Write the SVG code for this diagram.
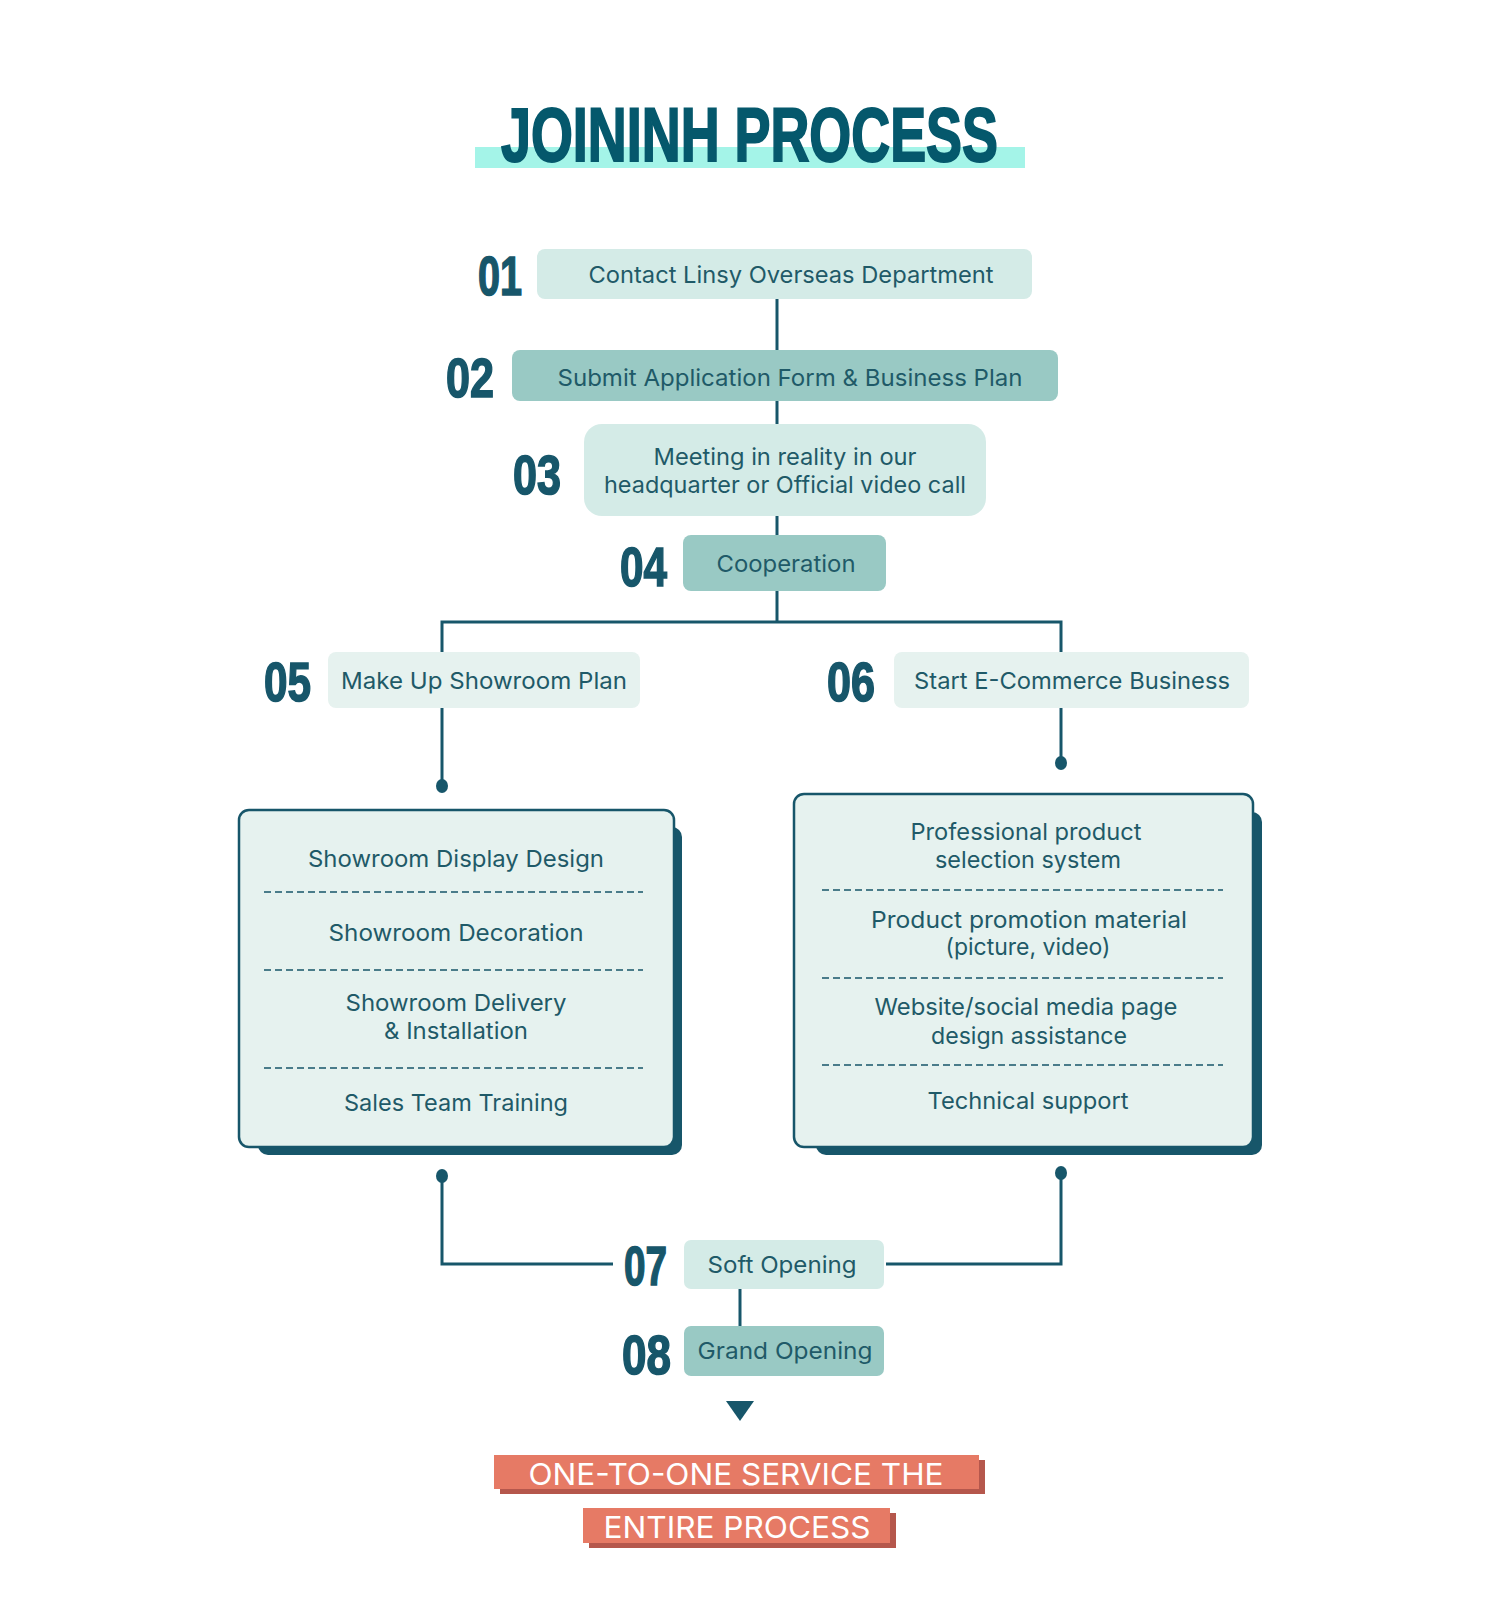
<svg xmlns="http://www.w3.org/2000/svg" width="1500" height="1611" viewBox="0 0 1500 1611">
<style>
.num{font-family:"Liberation Sans",Arial,sans-serif;font-weight:700;font-size:56px;fill:#17566a;stroke:#17566a;stroke-width:1.6}
.lbl{font-family:Inter,"Noto Sans",sans-serif;font-size:23.5px;fill:#1f5a68;text-anchor:middle}
.conn{fill:none;stroke:#17566a;stroke-width:3}
.dash{stroke:#17566a;stroke-width:1.5;stroke-dasharray:7 4}
.light{fill:#d4ebe7}
.mid{fill:#99c9c4}
.pale{fill:#e6f2ef}
.card{fill:#e6f2ef;stroke:#17566a;stroke-width:2.5}
.shadow{fill:#17566a}
.ban{font-family:Inter,"Noto Sans",sans-serif;font-size:30px;fill:#ffffff;text-anchor:middle}
</style>
<rect width="1500" height="1611" fill="#ffffff"/>
<g id="title">
<rect x="475" y="147" width="550" height="21" fill="#a4f4e8"/>
<text x="501" y="161" font-family="Liberation Sans,Arial,sans-serif" font-weight="700" font-size="76" fill="#05586c" stroke="#05586c" stroke-width="2" textLength="497" lengthAdjust="spacingAndGlyphs">JOININH PROCESS</text>
</g>
<g id="connectors">
<line class="conn" x1="777" y1="299" x2="777" y2="350"/>
<line class="conn" x1="777" y1="401" x2="777" y2="424"/>
<line class="conn" x1="777" y1="516" x2="777" y2="535"/>
<polyline class="conn" points="777,591 777,622"/>
<polyline class="conn" points="442,652 442,622 1061,622 1061,652"/>
<line class="conn" x1="442" y1="708" x2="442" y2="784"/>
<ellipse cx="442" cy="786" rx="6" ry="7" fill="#17566a"/>
<line class="conn" x1="1061" y1="708" x2="1061" y2="761"/>
<ellipse cx="1061" cy="763" rx="6" ry="7" fill="#17566a"/>
<ellipse cx="442" cy="1176" rx="6" ry="7" fill="#17566a"/>
<polyline class="conn" points="442,1176 442,1264 613,1264"/>
<ellipse cx="1061" cy="1173" rx="6" ry="7" fill="#17566a"/>
<polyline class="conn" points="1061,1173 1061,1264 886,1264"/>
<line class="conn" x1="740" y1="1289" x2="740" y2="1326"/>
<polygon points="726,1401 754,1401 740,1421" fill="#17566a"/>
</g>
<g id="n01">
<rect class="light" x="537" y="249" width="495" height="50" rx="8"/>
<text class="num" x="478" y="295" textLength="44" lengthAdjust="spacingAndGlyphs">01</text>
<text class="lbl" x="791" y="283" textLength="405" lengthAdjust="spacingAndGlyphs">Contact Linsy Overseas Department</text>
</g>
<g id="n02">
<rect class="mid" x="512" y="350" width="546" height="51" rx="8"/>
<text class="num" x="446" y="397" textLength="48" lengthAdjust="spacingAndGlyphs">02</text>
<text class="lbl" x="790" y="386" textLength="465" lengthAdjust="spacingAndGlyphs">Submit Application Form &amp; Business Plan</text>
</g>
<g id="n03">
<rect class="light" x="584" y="424" width="402" height="92" rx="18"/>
<text class="num" x="513" y="494" textLength="48" lengthAdjust="spacingAndGlyphs">03</text>
<text class="lbl" x="785" y="465" textLength="263" lengthAdjust="spacingAndGlyphs">Meeting in reality in our</text>
<text class="lbl" x="785" y="493" textLength="362" lengthAdjust="spacingAndGlyphs">headquarter or Official video call</text>
</g>
<g id="n04">
<rect class="mid" x="683" y="535" width="203" height="56" rx="8"/>
<text class="num" x="620" y="586" textLength="47" lengthAdjust="spacingAndGlyphs">04</text>
<text class="lbl" x="786" y="572" textLength="139" lengthAdjust="spacingAndGlyphs">Cooperation</text>
</g>
<g id="n05">
<rect class="pale" x="328" y="652" width="312" height="56" rx="8"/>
<text class="num" x="264" y="701" textLength="47" lengthAdjust="spacingAndGlyphs">05</text>
<text class="lbl" x="484" y="689" textLength="286" lengthAdjust="spacingAndGlyphs">Make Up Showroom Plan</text>
</g>
<g id="n06">
<rect class="pale" x="894" y="652" width="355" height="56" rx="8"/>
<text class="num" x="827" y="701" textLength="48" lengthAdjust="spacingAndGlyphs">06</text>
<text class="lbl" x="1072" y="689" textLength="316" lengthAdjust="spacingAndGlyphs">Start E-Commerce Business</text>
</g>
<g id="showroom-list">
<rect class="shadow" x="258" y="827" width="424" height="328" rx="10"/>
<rect class="card" x="239" y="810" width="435" height="337" rx="10"/>
<text class="lbl" x="456" y="867" textLength="296" lengthAdjust="spacingAndGlyphs">Showroom Display Design</text>
<line class="dash" x1="264" y1="892" x2="643" y2="892"/>
<text class="lbl" x="456" y="941" textLength="255" lengthAdjust="spacingAndGlyphs">Showroom Decoration</text>
<line class="dash" x1="264" y1="970" x2="643" y2="970"/>
<text class="lbl" x="456" y="1011" textLength="221" lengthAdjust="spacingAndGlyphs">Showroom Delivery</text>
<text class="lbl" x="456" y="1039" textLength="144" lengthAdjust="spacingAndGlyphs">&amp; Installation</text>
<line class="dash" x1="264" y1="1068" x2="643" y2="1068"/>
<text class="lbl" x="456" y="1111" textLength="224" lengthAdjust="spacingAndGlyphs">Sales Team Training</text>
</g>
<g id="ecommerce-list">
<rect class="shadow" x="816" y="812" width="446" height="343" rx="10"/>
<rect class="card" x="794" y="794" width="459" height="353" rx="10"/>
<text class="lbl" x="1026" y="840" textLength="231" lengthAdjust="spacingAndGlyphs">Professional product</text>
<text class="lbl" x="1028" y="868" textLength="186" lengthAdjust="spacingAndGlyphs">selection system</text>
<line class="dash" x1="822" y1="890" x2="1223" y2="890"/>
<text class="lbl" x="1029" y="928" textLength="316" lengthAdjust="spacingAndGlyphs">Product promotion material</text>
<text class="lbl" x="1028" y="955" textLength="165" lengthAdjust="spacingAndGlyphs">(picture, video)</text>
<line class="dash" x1="822" y1="978" x2="1223" y2="978"/>
<text class="lbl" x="1026" y="1015" textLength="303" lengthAdjust="spacingAndGlyphs">Website/social media page</text>
<text class="lbl" x="1029" y="1044" textLength="196" lengthAdjust="spacingAndGlyphs">design assistance</text>
<line class="dash" x1="822" y1="1065" x2="1223" y2="1065"/>
<text class="lbl" x="1028" y="1109" textLength="201" lengthAdjust="spacingAndGlyphs">Technical support</text>
</g>
<g id="n07">
<rect class="light" x="684" y="1240" width="200" height="49" rx="7"/>
<text class="num" x="624" y="1285" textLength="43" lengthAdjust="spacingAndGlyphs">07</text>
<text class="lbl" x="782" y="1273" textLength="149" lengthAdjust="spacingAndGlyphs">Soft Opening</text>
</g>
<g id="n08">
<rect class="mid" x="684" y="1326" width="200" height="50" rx="7"/>
<text class="num" x="622" y="1374" textLength="49" lengthAdjust="spacingAndGlyphs">08</text>
<text class="lbl" x="785" y="1359" textLength="175" lengthAdjust="spacingAndGlyphs">Grand Opening</text>
</g>
<g id="banner">
<rect x="500" y="1460" width="485" height="34" fill="#b5574c"/>
<rect x="494" y="1455" width="485" height="34" fill="#e67a65"/>
<text class="ban" x="736" y="1485" textLength="415" lengthAdjust="spacingAndGlyphs">ONE-TO-ONE SERVICE THE</text>
<rect x="589" y="1513" width="307" height="35" fill="#b5574c"/>
<rect x="583" y="1508" width="307" height="35" fill="#e67a65"/>
<text class="ban" x="737" y="1538" textLength="267" lengthAdjust="spacingAndGlyphs">ENTIRE PROCESS</text>
</g>
</svg>
